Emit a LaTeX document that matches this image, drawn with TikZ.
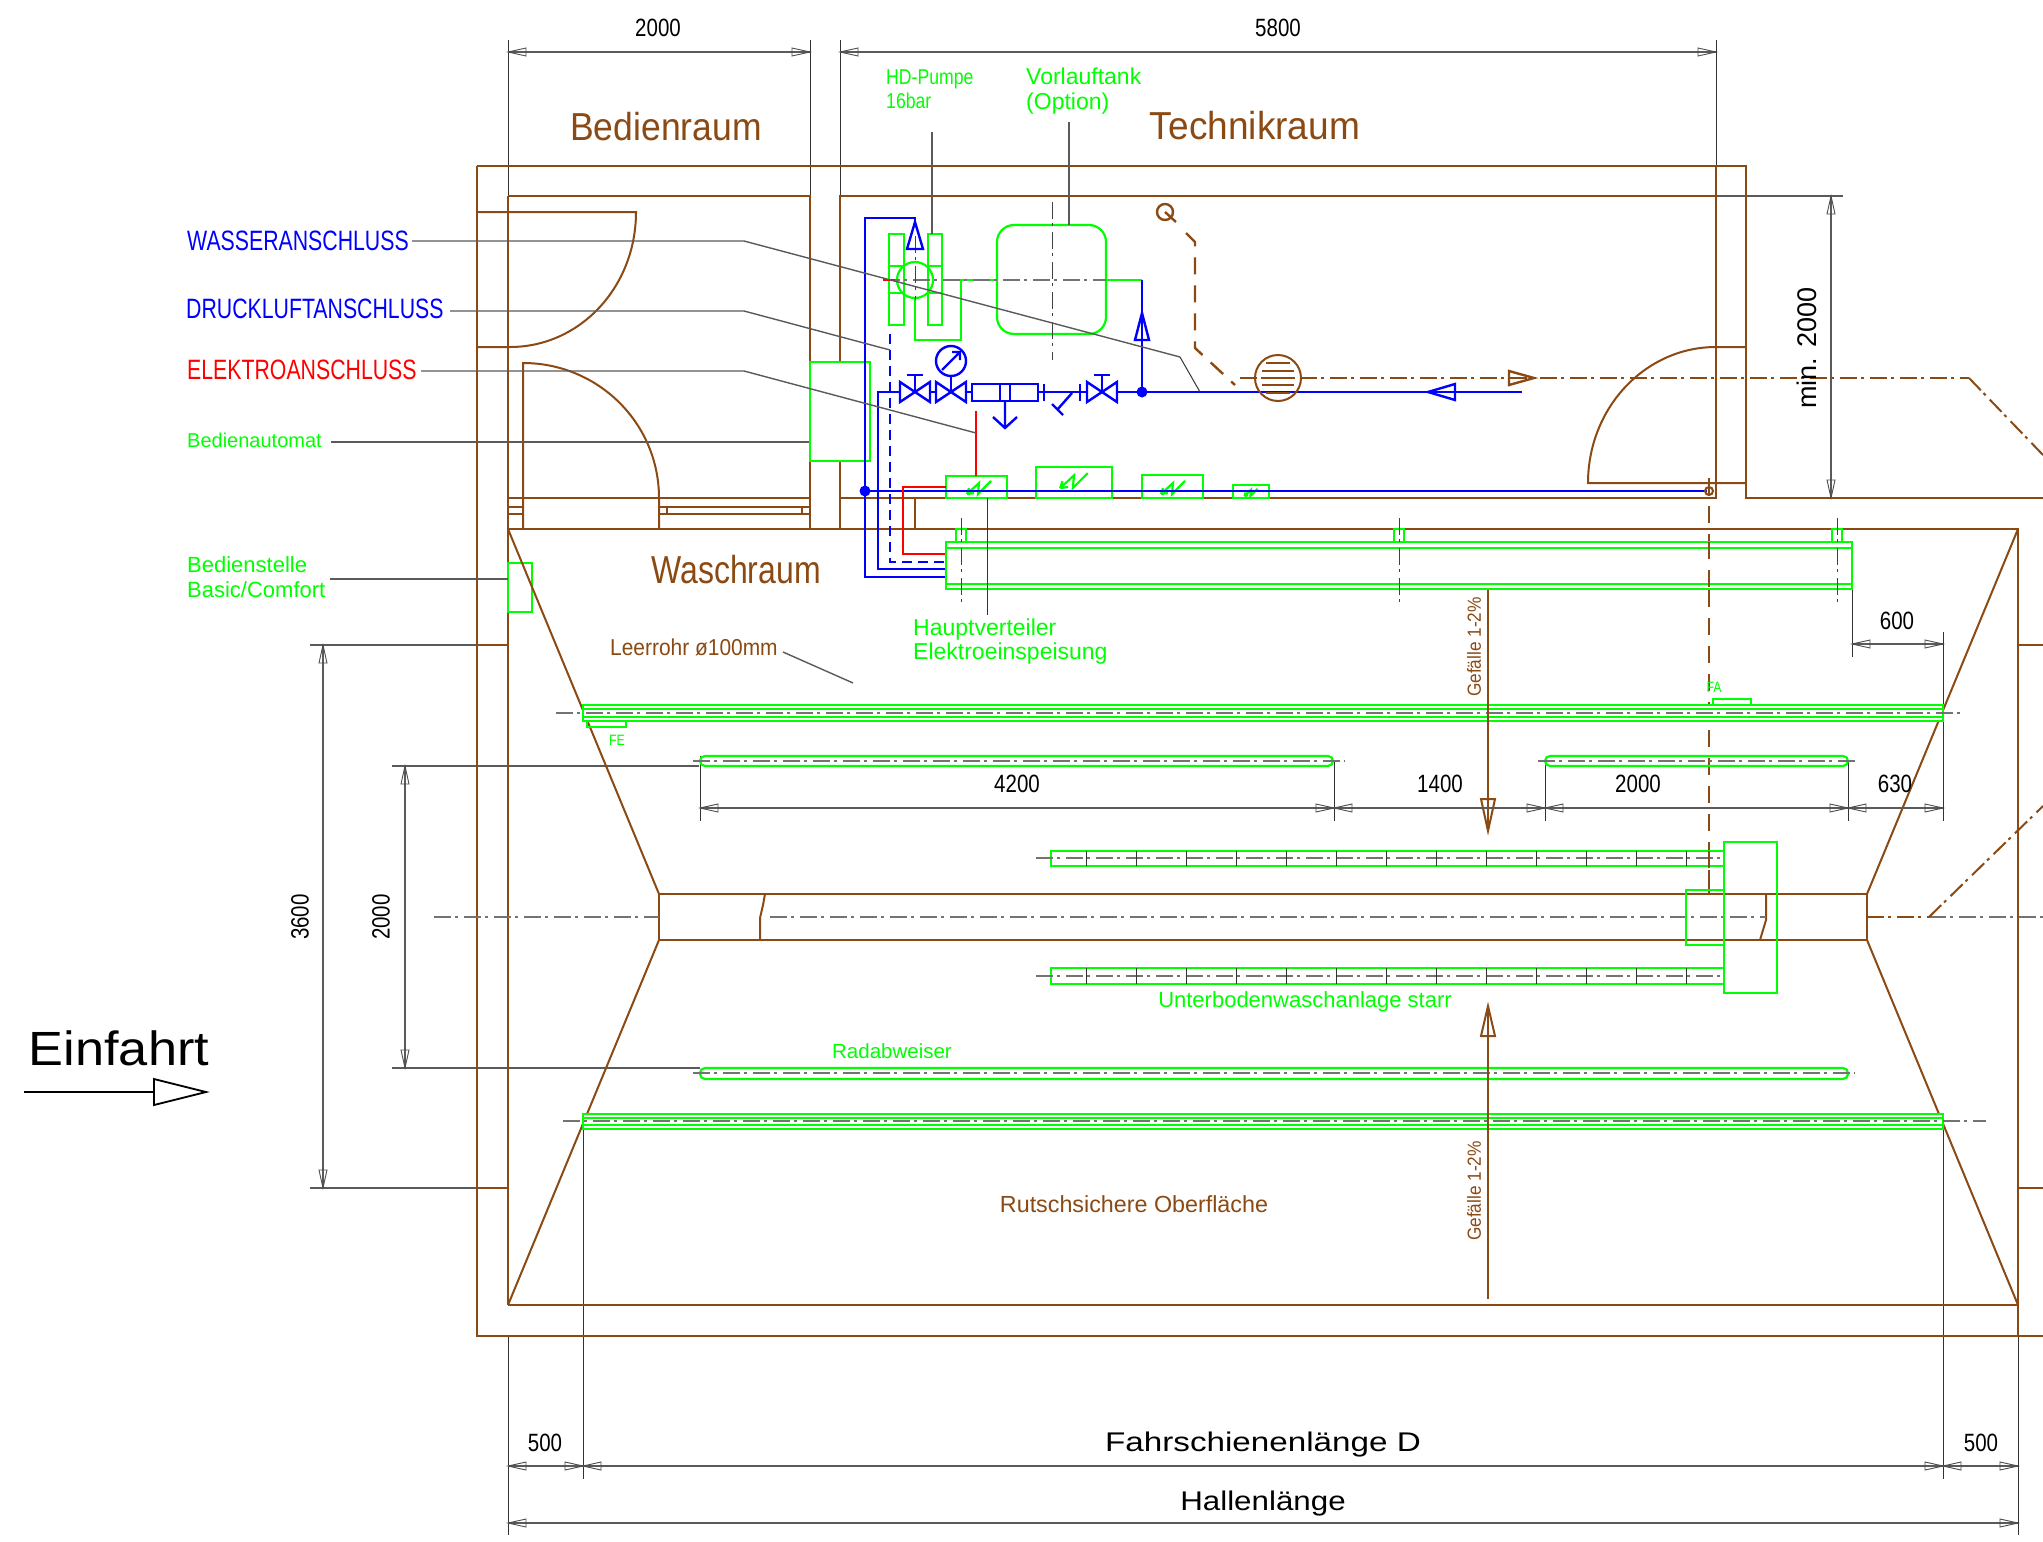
\documentclass[tikz,border=0pt]{standalone}
\usepackage{fontspec}
\setmainfont{Liberation Sans}
\newfontfamily\nf[FakeStretch=0.82]{Liberation Sans}
\newfontfamily\nfn[FakeStretch=0.76]{Liberation Sans}
\newfontfamily\nfa[FakeStretch=0.91]{Liberation Sans}
\newfontfamily\nfb[FakeStretch=0.95]{Liberation Sans}
\newfontfamily\nfw[FakeStretch=1.23]{Liberation Sans}
\newfontfamily\nfh[FakeStretch=1.16]{Liberation Sans}
\newfontfamily\nfe[FakeStretch=1.09]{Liberation Sans}
\definecolor{br}{RGB}{139,74,19}
\definecolor{gr}{RGB}{0,255,0}
\definecolor{bl}{RGB}{0,0,255}
\definecolor{rd}{RGB}{255,0,0}
\definecolor{ld}{RGB}{90,90,90}
\newcommand{\fsz}[1]{\fontsize{#1}{#1}\selectfont}
\newcommand{\dimh}[3]{%
 \draw[dimline] (#1,#3)--(#2,#3);
 \draw[tipline] (#1,#3)--(#1+18,#3-4)--(#1+18,#3+4)--cycle;
 \draw[tipline] (#2,#3)--(#2-18,#3-4)--(#2-18,#3+4)--cycle;}
\newcommand{\dimv}[3]{%
 \draw[dimline] (#1,#2)--(#1,#3);
 \draw[tipline] (#1,#2)--(#1-4,#2+18)--(#1+4,#2+18)--cycle;
 \draw[tipline] (#1,#3)--(#1-4,#3-18)--(#1+4,#3-18)--cycle;}
\newcommand{\zz}[3]{\begin{scope}[shift={(#1,#2)},scale=#3]
 \draw[grl] (12,-6)--(-1,7)--(0,-4)--(-12,7) (-12,7)--(-10,1) (-12,7)--(-5,6);
 \end{scope}}
\newcommand{\valve}[2]{%
 \draw[blu] (#1-15,#2-10)--(#1+15,#2+10)--(#1+15,#2-10)--(#1-15,#2+10)--cycle;}
\tikzset{
 x=1pt,y=-1pt,
 wall/.style={draw=br,line width=2pt},
 grl/.style={draw=gr,line width=2.2pt},
 grf/.style={draw=gr,line width=2.2pt,fill=white},
 blu/.style={draw=bl,line width=2.4pt},
 red/.style={draw=rd,line width=2.2pt},
 lead/.style={draw=ld,line width=1.4pt},
 ext/.style={draw=black!80,line width=1pt},
 dimline/.style={draw=ld,line width=1.1pt},
 tipline/.style={draw=black!70,line width=.9pt},
 cl/.style={draw=gray!90!black,line width=1.6pt,dash pattern=on 17pt off 4pt on 3pt off 6pt},
 cld/.style={draw=black!75,line width=1pt,dash pattern=on 17pt off 4pt on 3pt off 6pt},
 clb/.style={draw=br,line width=2.4pt,dash pattern=on 17pt off 4pt on 3pt off 6pt},
 dsb/.style={draw=br,line width=2.4pt,dash pattern=on 17pt off 11pt},
 num/.style={inner sep=0pt,font=\nf\fsz{25},text=black},
 ttl/.style={inner sep=0pt,font=\nf\fsz{39},text=br},
 lbl/.style={inner sep=0pt,anchor=west,font=\fsz{20},text=gr},
 bluel/.style={inner sep=0pt,anchor=west,font=\nfn\fsz{28},text=bl},
}
\begin{document}
\begin{tikzpicture}
\useasboundingbox (0,0) rectangle (2043,1542);
\fill[white] (0,0) rectangle (2043,1542);
\clip (0,0) rectangle (2043,1542);

% ---- extension lines
\draw[ext] (508,40)--(508,196) (810,40)--(810,196) (840,40)--(840,196) (1716,40)--(1716,166);
\draw[ext] (508,1336)--(508,1535) (2018,1305)--(2018,1535);
\draw[ext] (583,1129)--(583,1479) (1943,1129)--(1943,1479);
\draw[ext] (1943,632)--(1943,821) (1852,589)--(1852,657);
\draw[ext] (700,756)--(700,821) (1334,761)--(1334,821) (1545,761)--(1545,821) (1848,761)--(1848,821);
\draw[dimline] (310,645)--(477,645) (310,1188)--(477,1188);
\draw[dimline] (392,766)--(699,766) (392,1068)--(700,1068);
\draw[dimline] (1716,196)--(1843,196);

% ---- building
\draw[wall] (477,166)--(1746,166)--(1746,498)--(2043,498);
\draw[wall] (477,166)--(477,1336)--(2043,1336);
\draw[wall] (508,196)--(508,1305);
\draw[wall] (508,196)--(810,196)--(810,529);
\draw[wall] (840,529)--(840,196)--(1716,196);
\draw[wall] (1716,166)--(1716,498)--(840,498);
\draw[wall] (508,498)--(810,498) (508,507)--(523,507) (508,514)--(523,514);
\draw[wall] (659,507)--(810,507) (659,514)--(810,514) (667,507)--(667,514) (802,507)--(802,514);
\draw[wall] (915,498)--(915,529);
\draw[wall] (508,529)--(2018,529)--(2018,1336);
\draw[wall] (508,1305)--(2018,1305);
\draw[wall] (477,645)--(508,645) (477,1188)--(508,1188) (2018,645)--(2043,645) (2018,1188)--(2043,1188);
\draw[wall] (1867,894)--(659,894)--(659,940)--(1867,940)--(1867,894);
\draw[wall] (2018,529)--(1867,894) (508,1305)--(659,940) (1867,940)--(2018,1305);
\draw[wall] (765,894)--(763,905)--(760,918)--(760,940);
\draw[wall] (1766,894)--(1766,920)--(1763,930)--(1760,940);
% doors
\draw[wall] (477,212)--(636,212) .. controls (636,287) and (580,347) .. (510,347)--(477,347);
\draw[wall] (523,529)--(523,363) .. controls (598,363) and (659,423) .. (659,498)--(659,529);
\draw[wall] (1746,347)--(1716,347) .. controls (1645,347) and (1588,408) .. (1588,483)--(1746,483);

% ---- centre lines
\draw[cl] (434,917)--(659,917);
\draw[cl] (770,917)--(1766,917);
\draw[cl] (1929,917)--(2043,917);
\draw[clb] (1867,917)--(1929,917);
\draw[clb,line width=2pt] (1929,917)--(2043,806);
\draw[clb] (1240,378)--(1969,378);
\draw[clb,line width=2pt] (1969,378)--(2043,455);
% ---- brown vertical dashed
\draw[dsb] (1709,478)--(1709,893);

% ---- Bedienelemente
\node[draw=gr,line width=2.2pt,fill=white,minimum width=60pt,minimum height=99pt,inner sep=0pt] (automat) at (840,411.5) {};
\draw[grl] (508,563) rectangle (532,612);
\draw[wall] (508,529)--(659,894);

% ---- boxes
\draw[grf] (946,476) rectangle (1007,498);
\draw[grf] (1036,467) rectangle (1112,498);
\draw[grf] (1142,475) rectangle (1203,498);
\draw[grf] (1233,485) rectangle (1269,498);
\zz{979}{487}{1} \zz{1074}{480}{1.15} \zz{1173}{487}{1} \zz{1251}{492}{.55}

% ---- tank / pump
\draw[grl,rounded corners=17pt] (997,225) rectangle (1106,334);
\draw[grl] (889,234) rectangle (904,325) (928,234) rectangle (942,325);
\draw[grl] (889,266)--(904,266) (889,293)--(904,293) (928,266)--(942,266) (928,293)--(942,293);
\draw[grl] (915,280) circle[radius=18];
\draw[grl] (915,298)--(915,340)--(961,340)--(961,280)--(997,280);
\draw[grl] (1106,280)--(1142,280);
\draw[cl] (883,280)--(1106,280);
\draw[draw=rd,line width=1.2pt] (883,280)--(895,280);
\draw[cld] (1052,202)--(1052,360);
\draw[cld] (915,236)--(915,300);

% ---- blue
\draw[blu] (865,491)--(865,218)--(915,218)--(915,222);
\draw[blu] (915,222)--(907,249)--(923,249)--cycle;
\draw[blu] (865,491)--(865,577)--(946,577);
\draw[blu] (946,569)--(878,569)--(878,392)--(900,392);
\draw[blu,dash pattern=on 10pt off 6pt] (890,334)--(890,562)--(946,562);
\draw[blu] (1142,280)--(1142,392);
\draw[blu] (1142,313)--(1135,340)--(1149,340)--cycle;
\valve{915}{392} \valve{951}{392} \valve{1102}{392}
\draw[blu] (915,392)--(915,375) (907,375)--(923,375);
\draw[blu] (930,392)--(936,392) (966,392)--(972,392);
\draw[blu] (951,392)--(951,376);
\draw[blu] (951,361) circle[radius=15];
\draw[blu] (942,370)--(960,352) (952,352)--(960,352)--(960,360);
\draw[blu] (972,384) rectangle (1038,401);
\draw[blu] (1000,384)--(1000,401) (1010,384)--(1010,401);
\draw[blu] (1005,401)--(1005,428) (993,417)--(1005,428)--(1017,417);
\draw[blu] (1038,392)--(1044,392) (1044,384)--(1044,401) (1044,392)--(1080,392) (1080,384)--(1080,401) (1080,392)--(1087,392);
\draw[blu] (1072,393)--(1057,410) (1052,404)--(1063,415);
\draw[blu] (1102,392)--(1102,375) (1094,375)--(1110,375);
\draw[blu] (1117,392)--(1522,392);
\fill[bl] (1142,392) circle[radius=5.5];
\draw[blu] (1428,392)--(1455,384)--(1455,400)--cycle;
\draw[blu] (865,491)--(1707,491);
\fill[bl] (865,491) circle[radius=5.5];
\draw[wall] (1709,491) circle[radius=4];

% ---- red
\draw[red] (976,411)--(976,476);
\draw[red] (946,487)--(903,487)--(903,554)--(946,554);

% ---- exhaust
\draw[wall,line width=2.4pt] (1165,212) circle[radius=8];
\draw[wall,line width=2.4pt] (1165,212)--(1176,222);
\draw[dsb] (1186,233)--(1195,242)--(1195,348)--(1235,385);
\draw[wall] (1278,378) circle[radius=23];
\draw[wall,line width=2.4pt] (1266,363)--(1290,363) (1262,371)--(1294,371) (1261,378)--(1295,378) (1262,385)--(1294,385) (1266,393)--(1290,393);
\draw[wall,line width=2.4pt] (1509,371)--(1534,378)--(1509,385)--cycle;

% ---- rails
\draw[grf] (946,542) rectangle (1852,589);
\draw[grl] (946,548)--(1852,548) (946,584)--(1852,584);
\foreach \xx in {961,1399,1837}{
 \draw[grl] (\xx-5,529) rectangle (\xx+5,542);
 \draw[cld] (\xx,518)--(\xx,604);
}
\draw[dsb] (1709,542)--(1709,589);
\draw[grf] (583,705) rectangle (1943,721);
\draw[grl] (583,709)--(1943,709) (583,717)--(1943,717);
\draw[cl] (556,713)--(1963,713);
\draw[grl] (587,721)--(587,727)--(626,727)--(626,721);
\draw[grl] (1713,706)--(1713,699)--(1751,699)--(1751,706);
\draw[grf] (583,1114) rectangle (1943,1129);
\draw[grl] (583,1118)--(1943,1118) (583,1125)--(1943,1125);
\draw[cl] (563,1121)--(1986,1121);
\draw[grl,rounded corners=5pt] (700,756) rectangle (1333,766);
\draw[cl] (693,761)--(1345,761);
\draw[grl,rounded corners=5pt] (1545,756) rectangle (1848,766);
\draw[cl] (1538,761)--(1857,761);
\draw[grl,rounded corners=5pt] (700,1068) rectangle (1848,1079);
\draw[cl] (693,1073)--(1855,1073);
% Unterboden
\foreach \yy/\aa/\bb in {858/851/866,976/968/984}{
 \draw[grl] (1051,\aa) rectangle (1724,\bb);
 \draw[cl] (1036,\yy)--(1720,\yy);
 \foreach \xx in {1086,1136,...,1686}{\draw[draw=black!80,line width=1pt] (\xx,\aa)--(\xx,\bb);}
}
\draw[dsb] (1709,851)--(1709,893);
\draw[grl] (1686,890) rectangle (1724,945);
\draw[grl] (1724,842) rectangle (1777,993);

% ---- slope arrows
\draw[wall] (1488,590)--(1488,831);
\draw[wall] (1488,831)--(1481,799)--(1495,799)--cycle;
\draw[wall] (1488,1299)--(1488,1006);
\draw[wall] (1488,1006)--(1481,1036)--(1495,1036)--cycle;

% ---- dimensions
\dimh{508}{810}{52}
\dimh{840}{1716}{52}
\dimv{1831}{196}{498}
\dimh{1852}{1943}{644}
\dimh{700}{1334}{808}
\dimh{1334}{1545}{808}
\dimh{1545}{1848}{808}
\dimh{1848}{1943}{808}
\dimv{323}{645}{1188}
\dimv{405}{766}{1068}
\dimh{508}{583}{1466}
\dimh{583}{1943}{1466}
\dimh{1943}{2018}{1466}
\dimh{508}{2018}{1523}

% ---- leaders (over the boxes)
\draw[lead] (412,241)--(744,241)--(1180,357);
\draw[draw=black!80,line width=1pt] (1180,357)--(1200,392);
\draw[lead] (450,311)--(744,311)--(890,350);
\draw[lead] (421,371)--(744,371)--(976,433);
\draw[lead] (331,442)--(automat.west |- 0,442);
\draw[lead] (330,579)--(508,579);
\draw[lead] (783,652)--(853,683);
\draw[draw=black!80,line width=1pt] (987,498)--(987,615);
\draw[lead] (932,132)--(932,234);
\draw[lead] (1069,122)--(1069,225);

% ---- Einfahrt arrow
\coordinate (einA) at (24,1092);
\coordinate (einB) at (154,1092);
\draw[draw=black,line width=1.8pt] (einA)--(einB);
\draw[draw=black,line width=1.8pt] (206,1092)--(154,1079)--(154,1105)--cycle;

% ---- texts
\node[num] (d1) at (658,28) {2000};
\node[num] (d2) at (1278,28) {5800};
\node[num] (d3) at (1897,621) {600};
\node[num] (d4) at (1017,784) {4200};
\node[num] (d5) at (1440,784) {1400};
\node[num] (d6) at (1638,784) {2000};
\node[num] (d7) at (1895,784) {630};
\node[num] (d8) at (545,1443) {500};
\node[num] (d9) at (1981,1443) {500};
\node[num,rotate=90] (d10) at (300,917) {3600};
\node[num,rotate=90] (d11) at (381,917) {2000};
\node[inner sep=0pt,rotate=90,font=\fsz{27}] (d12) at (1807,348) {min. 2000};
\node[inner sep=0pt,font=\nfw\fsz{27}] (d13) at (1263,1445) {Fahrschienenlänge D};
\node[inner sep=0pt,font=\nfh\fsz{27}] (d14) at (1263,1504) {Hallenlänge};
\node[inner sep=0pt,font=\nfe\fsz{48}] (ein) at (119,1048) {Einfahrt};
\node[ttl,font=\nfa\fsz{39}] (t1) at (666,127) {Bedienraum};
\node[ttl,font=\nfb\fsz{39}] (t2) at (1255,126) {Technikraum};
\node[ttl] (t3) at (736,570) {Waschraum};
\node[inner sep=0pt,font=\fsz{23.3},text=br] (t4) at (1134,1204) {Rutschsichere Oberfläche};
\node[inner sep=0pt,anchor=west,font=\nfa\fsz{23},text=br] (t5) at (610,647) {Leerrohr ø100mm};
\node[inner sep=0pt,rotate=90,font=\nfa\fsz{19},text=br] (t6) at (1474,647) {Gefälle 1-2\%};
\node[inner sep=0pt,rotate=90,font=\nfa\fsz{19},text=br] (t7) at (1474,1191) {Gefälle 1-2\%};
\node[bluel] (l1) at (187,241) {WASSERANSCHLUSS};
\node[bluel] (l2) at (186,309) {DRUCKLUFTANSCHLUSS};
\node[bluel,text=rd] (l3) at (187,370) {ELEKTROANSCHLUSS};
\node[lbl] (l4) at (187,440) {Bedienautomat};
\node[lbl,font=\fsz{22},align=left] (l5) at (187,577) {Bedienstelle\\[2.5pt]Basic/Comfort};
\node[lbl,font=\fsz{23},align=left] (l6) at (913,642) {Hauptverteiler\\[1pt]Elektroeinspeisung};
\node[lbl,font=\nf\fsz{21.5},align=left] (l7) at (886,89) {HD-Pumpe\\[3pt]16bar};
\node[lbl,font=\fsz{23},align=left] (l8) at (1026,91) {Vorlauftank\\[2pt](Option)};
\node[lbl,anchor=center,font=\fsz{20.5}] (l9) at (892,1051) {Radabweiser};
\node[lbl,anchor=center,font=\fsz{22}] (l10) at (1305,1002) {Unterbodenwaschanlage starr};
\node[lbl,anchor=center,font=\nf\fsz{15}] (l11) at (617,740) {FE};
\node[lbl,anchor=center,font=\nf\fsz{15}] (l12) at (1714,687) {FA};
\end{tikzpicture}
\end{document}
